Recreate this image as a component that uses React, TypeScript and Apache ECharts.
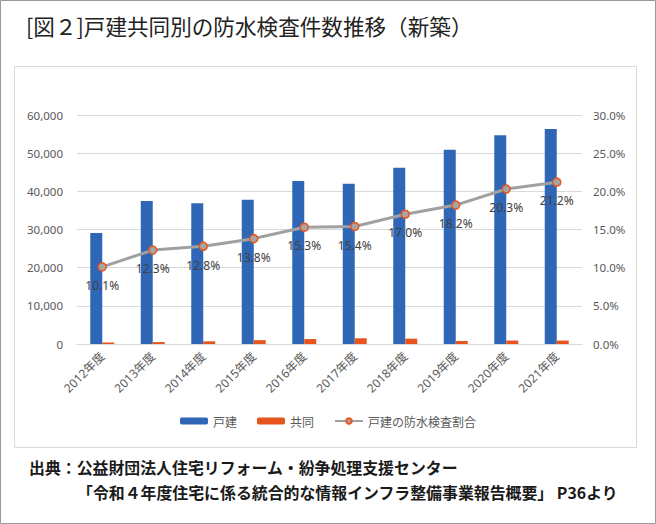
import React, { useEffect, useRef } from "react";
import * as echarts from "echarts";

const categories = ["2012年度", "2013年度", "2014年度", "2015年度", "2016年度", "2017年度", "2018年度", "2019年度", "2020年度", "2021年度"];
const detached = [29100, 37500, 36900, 37800, 42700, 42000, 46200, 50900, 54700, 56300];
const collective = [400, 500, 700, 1000, 1300, 1500, 1400, 800, 900, 900];
const ratio = [10.1, 12.3, 12.8, 13.8, 15.3, 15.4, 17.0, 18.2, 20.3, 21.2];

const titleText = "[図２]戸建共同別の防水検査件数推移（新築）";
const sourceLine1 = "出典：公益財団法人住宅リフォーム・紛争処理支援センター";
const sourceLine2 = "「令和４年度住宅に係る統合的な情報インフラ整備事業報告概要」 P36より";
const seriesNames = ["戸建", "共同", "戸建の防水検査割合"];

const FONT = '"Noto Sans", "Noto Sans CJK JP", sans-serif';
const JFONT = '"Noto Sans CJK JP", "Noto Sans", sans-serif';

export default function App() {
  const ref = useRef<HTMLDivElement>(null);
  useEffect(() => {
    document.body.style.margin = "0";
    if (!ref.current) return;
    const chart = echarts.init(ref.current, undefined, { renderer: "svg" });
    chart.setOption({
      animation: false,
      backgroundColor: "#ffffff",
      textStyle: { fontFamily: FONT },
      graphic: [
        { type: "rect", shape: { x: 0.5, y: 0.5, width: 655, height: 523 }, style: { fill: "none", stroke: "#9a9a9a", lineWidth: 1 } },
        { type: "rect", shape: { x: 14.5, y: 66.5, width: 622, height: 381 }, style: { fill: "none", stroke: "#d9d9d9", lineWidth: 1 } },
        { type: "text", x: 26, y: 25, style: { text: titleText, fontSize: 21.6, fill: "#222222", fontFamily: JFONT, verticalAlign: "middle" } },
        { type: "text", x: 29, y: 467, style: { text: sourceLine1, fontSize: 15.9, fontWeight: "bold", fill: "#1a1a1a", fontFamily: JFONT, verticalAlign: "middle" } },
        { type: "text", x: 77, y: 492, style: { text: sourceLine2, fontSize: 15.9, fontWeight: "bold", fill: "#1a1a1a", fontFamily: JFONT, verticalAlign: "middle" } },
      ],
      grid: { left: 77, right: 74, top: 115, bottom: 180 },
      legend: {
        bottom: 92,
        left: "center",
        itemWidth: 28,
        itemHeight: 7,
        itemGap: 20,
        textStyle: { color: "#595959", fontSize: 12, fontFamily: JFONT },
        data: seriesNames,
      },
      xAxis: {
        type: "category",
        data: categories,
        axisLine: { lineStyle: { color: "#d9d9d9" } },
        axisTick: { show: false },
        axisLabel: { rotate: 45, color: "#595959", fontSize: 12, margin: 10, interval: 0, fontFamily: FONT },
      },
      yAxis: [
        {
          type: "value",
          min: 0,
          max: 60000,
          interval: 10000,
          axisLine: { show: false },
          axisTick: { show: false },
          splitLine: { lineStyle: { color: "#d9d9d9" } },
          axisLabel: {
            color: "#595959",
            fontSize: 11.5,
            margin: 14,
            formatter: (v: number) => v.toLocaleString("en-US"),
          },
        },
        {
          type: "value",
          min: 0,
          max: 30,
          interval: 5,
          axisLine: { show: false },
          axisTick: { show: false },
          splitLine: { show: false },
          axisLabel: {
            color: "#595959",
            fontSize: 11.5,
            margin: 11,
            formatter: (v: number) => v.toFixed(1) + "%",
          },
        },
      ],
      series: [
        {
          name: seriesNames[0],
          type: "bar",
          data: detached,
          barWidth: 12,
          barGap: "0%",
          itemStyle: { color: "#2f67b6" },
        },
        {
          name: seriesNames[1],
          type: "bar",
          data: collective,
          barWidth: 12,
          barGap: "0%",
          itemStyle: { color: "#e8541d" },
        },
        {
          name: seriesNames[2],
          type: "line",
          yAxisIndex: 1,
          data: ratio,
          symbol: "circle",
          symbolSize: 8,
          lineStyle: { color: "#a0a0a0", width: 3 },
          itemStyle: { color: "#a5a5a5", borderColor: "#e8561e", borderWidth: 1.5 },
          label: {
            show: true,
            position: "bottom",
            distance: 8,
            color: "#404040",
            fontSize: 12,
            formatter: (p: any) => Number(p.value).toFixed(1) + "%",
          },
          z: 5,
        },
      ],
    });
    return () => chart.dispose();
  }, []);
  return <div ref={ref} style={{ width: 656, height: 524 }} />;
}
